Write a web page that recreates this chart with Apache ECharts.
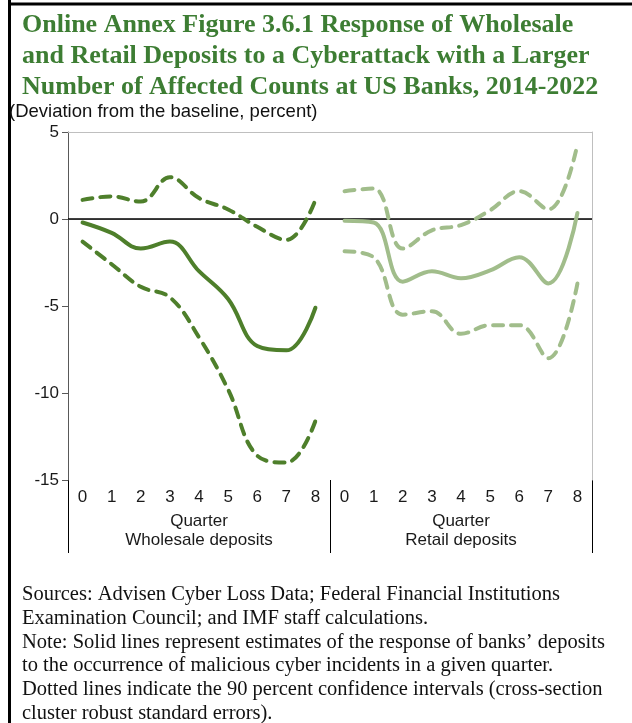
<!DOCTYPE html>
<html>
<head>
<meta charset="utf-8">
<script src="https://cdn.jsdelivr.net/npm/echarts@6/dist/echarts.min.js"></script>
<style>
  html, body { margin: 0; padding: 0; background: #fff; }
  #chart { width: 632px; height: 723px; }
</style>
</head>
<body>
<div id="chart"></div>
<script>
(function() {
    var quarters = ['0', '1', '2', '3', '4', '5', '6', '7', '8'];
    var yTicks = [-15, -10, -5, 0, 5];

    // wholesale deposits
    var wholesaleEst = [-0.2, -0.8, -1.7, -1.3, -3.0, -4.6, -7.3, -7.55, -5.1];
    var wholesaleUp = [1.1, 1.3, 1.0, 2.4, 1.2, 0.55, -0.45, -1.2, 1.1];
    var wholesaleLow = [-1.3, -2.6, -3.9, -4.5, -6.8, -9.8, -13.6, -14.0, -11.6];

    // retail deposits
    var retailEst = [-0.1, -0.2, -3.6, -3.0, -3.4, -2.95, -2.2, -3.7, 0.35];
    var retailUp = [1.6, 1.75, -1.7, -0.65, -0.35, 0.5, 1.6, 0.55, 4.3];
    var retailLow = [-1.85, -2.2, -5.5, -5.3, -6.6, -6.1, -6.1, -8.0, -3.7];

    var darkGreen = '#4e7f2b';
    var lightGreen = '#a1bd8b';

    var plotTop = 132, plotH = 348, leftX = 68, panelW = 262;
    var axisFont = 'Liberation Sans Narrow, Liberation Sans, Arial, sans-serif';

    var myChart = echarts.init(document.getElementById('chart'));

    function line(name, data, idx, color, dashed, zero) {
        var s = {
            name: name,
            type: 'line',
            xAxisIndex: idx,
            yAxisIndex: idx,
            data: data,
            smooth: 0.4,
            symbol: 'none',
            z: dashed ? 3 : 4,
            lineStyle: { color: color, width: 4, type: dashed ? [10, 8] : 'solid', cap: 'round' }
        };
        if (zero) {
            s.markLine = {
                silent: true,
                symbol: 'none',
                label: { show: false },
                lineStyle: { color: '#000', width: 1.5, type: 'solid' },
                data: [{ yAxis: 0 }],
                z: 2
            };
        }
        return s;
    }

    function xBottom(idx, name) {
        return {
            type: 'category',
            gridIndex: idx,
            data: quarters,
            boundaryGap: true,
            position: 'bottom',
            axisLine: { lineStyle: { color: '#bfbfbf', width: 1 } },
            axisTick: { show: false },
            axisLabel: { fontFamily: axisFont, fontSize: 17, color: '#1a1a1a', margin: 9 },
            name: 'Quarter\n' + name,
            nameLocation: 'middle',
            nameGap: 32,
            nameTextStyle: { fontFamily: axisFont, fontSize: 17, color: '#1a1a1a', lineHeight: 19 }
        };
    }

    function xTop(idx) {
        return {
            type: 'category',
            gridIndex: idx,
            data: quarters,
            position: 'top',
            axisLine: { lineStyle: { color: '#bfbfbf', width: 1 } },
            axisTick: { show: false },
            axisLabel: { show: false }
        };
    }

    var yMin = yTicks[0], yMax = yTicks[yTicks.length - 1];

    var option = {
        animation: false,
        title: [{
            text: 'Online Annex Figure 3.6.1 Response of Wholesale\nand Retail Deposits to a Cyberattack with a Larger\nNumber of Affected Counts at US Banks, 2014-2022',
            left: 17,
            top: 5,
            textStyle: {
                fontFamily: 'Liberation Serif, serif',
                fontWeight: 'bold',
                fontSize: 26,
                lineHeight: 31,
                color: '#3d7d33'
            }
        }, {
            text: '(Deviation from the baseline, percent)',
            left: 4,
            top: 97,
            textStyle: { fontFamily: axisFont, fontWeight: 'normal', fontSize: 18.5, color: '#111' }
        }, {
            text: 'Sources: Advisen Cyber Loss Data; Federal Financial Institutions\nExamination Council; and IMF staff calculations.\nNote: Solid lines represent estimates of the response of banks\u2019 deposits\nto the occurrence of malicious cyber incidents in a given quarter.\nDotted lines indicate the 90 percent confidence intervals (cross-section\ncluster robust standard errors).',
            left: 17,
            top: 578,
            textStyle: {
                fontFamily: 'Liberation Serif, serif',
                fontWeight: 'normal',
                fontSize: 20.5,
                lineHeight: 23.7,
                color: '#111'
            }
        }],
        grid: [
            { left: leftX, top: plotTop, width: panelW, height: plotH },
            { left: leftX + panelW, top: plotTop, width: panelW, height: plotH }
        ],
        xAxis: [xBottom(0, 'Wholesale deposits'), xBottom(1, 'Retail deposits'), xTop(0), xTop(1)],
        yAxis: [{
            type: 'value',
            gridIndex: 0,
            min: yMin,
            max: yMax,
            interval: 5,
            axisLine: { show: true, lineStyle: { color: '#595959', width: 1 } },
            axisTick: { show: true, length: 6, lineStyle: { color: '#595959' } },
            axisLabel: { fontFamily: 'Liberation Sans, Arial, sans-serif', fontSize: 17, color: '#1a1a1a', margin: 9 },
            splitLine: { show: false }
        }, {
            type: 'value',
            gridIndex: 1,
            min: yMin,
            max: yMax,
            interval: 5,
            position: 'right',
            axisLine: { show: true, lineStyle: { color: '#bfbfbf', width: 1 } },
            axisTick: { show: false },
            axisLabel: { show: false },
            splitLine: { show: false }
        }],
        graphic: [
            { type: 'line', shape: { x1: 9.5, y1: 0, x2: 9.5, y2: 723 }, style: { stroke: '#000', lineWidth: 3 } },
            { type: 'line', shape: { x1: 8, y1: 4, x2: 632, y2: 4 }, style: { stroke: '#000', lineWidth: 3 } },
            { type: 'line', shape: { x1: leftX + 0.5, y1: plotTop + plotH, x2: leftX + 0.5, y2: 553 }, style: { stroke: '#000', lineWidth: 1 } },
            { type: 'line', shape: { x1: leftX + panelW + 0.5, y1: plotTop + plotH, x2: leftX + panelW + 0.5, y2: 553 }, style: { stroke: '#000', lineWidth: 1 } },
            { type: 'line', shape: { x1: leftX + 2 * panelW + 0.5, y1: plotTop + plotH, x2: leftX + 2 * panelW + 0.5, y2: 553 }, style: { stroke: '#000', lineWidth: 1 } }
        ],
        series: [
            line('Wholesale estimate', wholesaleEst, 0, darkGreen, false, true),
            line('Wholesale upper', wholesaleUp, 0, darkGreen, true, false),
            line('Wholesale lower', wholesaleLow, 0, darkGreen, true, false),
            line('Retail estimate', retailEst, 1, lightGreen, false, true),
            line('Retail upper', retailUp, 1, lightGreen, true, false),
            line('Retail lower', retailLow, 1, lightGreen, true, false)
        ]
    };

    myChart.setOption(option);
})();
</script>
</body>
</html>
